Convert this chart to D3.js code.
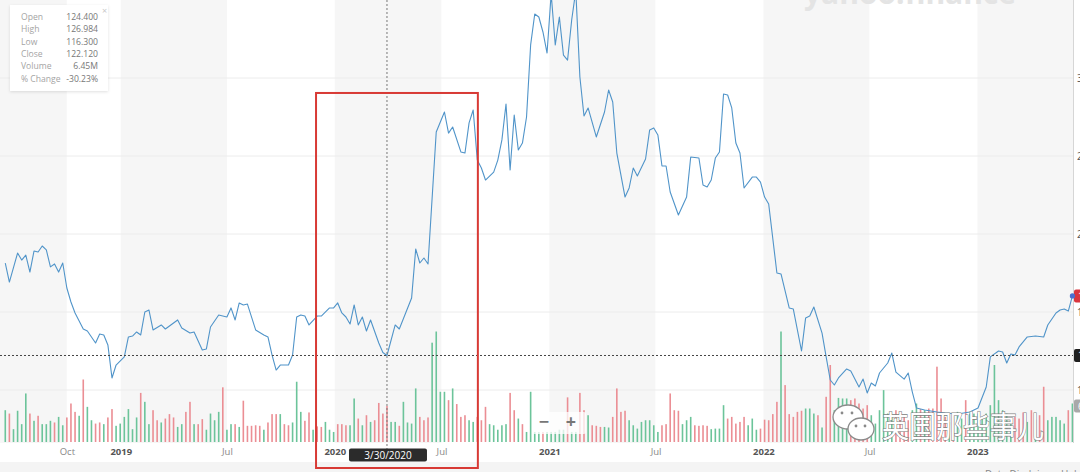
<!DOCTYPE html>
<html><head><meta charset="utf-8">
<script src="https://cdn.jsdelivr.net/npm/d3@7"></script>
<style>
html,body{margin:0;padding:0;background:#fff;overflow:hidden}
svg{display:block;font-family:"Open Sans",Roboto,sans-serif}
</style></head><body>
<svg id="c" width="1080" height="472"></svg>
<script>
// ---------- data (weekly, week index counted from baseDate) ----------
const baseDate = "2018-06-11";
const domainStart = "2018-06-09";
const domainEnd = "2023-06-13";

const priceWeeks = [1,2,4,5,6,7,8,9,10,11,12,13,14,15,16,17,18,20,21,23,24,25,26,27,28,30,31,32,33,34,35,36,37,39,40,43,44,46,47,49,50,51,53,55,56,57,58,59,60,62,64,65,66,67,68,70,71,72,73,74,75,77,78,80,81,82,83,84,85,86,87,88,89,90,92,93,94,96,97,100,101,102,103,104,106,108,109,110,112,113,114,115,116,117,118,120,121,122,123,124,125,126,127,128,129,130,131,132,133,134,135,136,137,138,139,140,141,142,143,145,147,148,149,150,152,153,154,155,157,158,159,160,161,162,163,165,167,168,170,171,172,173,174,175,176,177,178,179,180,181,183,184,185,186,187,189,190,192,193,195,196,197,198,200,201,202,203,204,206,207,209,210,211,212,213,214,216,217,218,220,221,222,223,225,228,230,233,236,238,240,241,243,244,245,246,247,248,250,252,254,255,257,258,259,260,261];
const priceClose = [181.4,169.2,187.8,183.3,186.5,175.6,189.1,188.5,192.3,189.8,178.9,180.8,175.6,181.4,165.4,156.4,149.4,139.1,137.8,130.1,135.9,135.3,128.9,107.7,116.0,121.2,134.0,134.6,137.2,135.3,150.0,151.3,138.5,141.7,139.1,144.9,139.8,136.5,137.2,125.6,126.3,140.4,148.1,146.8,152.6,144.9,155.8,154.5,155.1,138.5,135.3,134.0,122.4,112.8,116.0,116.0,122.4,146.8,148.1,147.4,141.7,147.4,147.4,152.6,152.6,155.8,149.4,146.8,142.3,154.5,141.7,146.8,137.8,144.9,130.1,124.0,122.12,141.7,139.1,159.0,190.4,181.4,184.6,180.8,265.4,278.2,264.7,268.6,252.6,251.9,271.2,279.5,247.4,242.3,234.6,239.7,247.4,260.3,283.3,241.0,276.3,253.8,258.3,275.0,321.2,341.0,339.1,329.5,316.0,354.0,321.2,339.1,314.7,311.5,337.2,356.0,300.6,275.6,280.8,262.2,278.2,292.3,284.6,251.9,223.7,229.5,242.3,237.2,248.1,266.7,268.0,263.5,243.6,243.6,226.9,212.2,223.7,249.4,248.7,231.4,230.1,234.6,248.7,252.6,289.7,289.1,280.8,258.3,251.9,229.5,236.5,236.5,233.3,223.7,219.2,175.0,174.4,152.6,151.9,125.0,146.2,147.4,153.2,136.5,121.2,106.4,103.2,107.7,113.5,112.2,101.9,107.0,98.1,104.5,102.6,110.9,117.3,123.7,111.5,107.0,110.9,98.7,88.5,87.2,85.9,85.3,84.6,85.9,88.5,101.9,121.2,125.0,124.4,117.3,123.1,122.4,127.6,134.0,134.6,134.0,141.7,149.4,151.3,151.9,150.6,160.3];

// weekly volume in millions, weeks 1..261
const volumeM = [5.7,5.1,2.3,5.6,3.2,8.7,5.1,3.8,4.7,3.2,3.2,3.8,3.5,4.5,3.0,4.4,6.9,5.4,4.7,11.2,6.3,3.9,3.3,3.5,3.2,4.4,5.9,2.9,3.3,4.5,5.9,2.3,4.4,8.8,7.2,3.2,5.7,3.9,3.5,4.2,5.0,4.4,2.7,3.2,5.4,7.2,3.2,3.2,4.1,2.2,5.1,3.9,5.4,9.8,2.2,3.2,3.2,2.7,7.4,2.9,2.9,3.0,2.9,2.2,3.5,5.0,5.0,5.0,3.2,3.0,3.5,10.8,5.4,3.8,5.3,2.2,2.8,
2.7,3.6,2.2,1.8,3.2,3.2,3.0,3.0,7.8,4.2,3.0,4.8,3.6,3.9,7.0,5.1,6.45,3.6,3.6,2.9,7.2,3.5,3.3,9.6,4.5,3.9,4.4,17.8,19.8,9.0,9.0,7.5,9.6,6.8,4.5,4.8,3.9,3.6,4.5,3.9,6.3,3.2,3.0,2.2,3.0,3.2,8.8,5.7,4.2,3.2,1.8,9.0,1.8,1.8,1.8,1.8,1.8,1.8,2.2,2.2,8.0,1.8,1.8,8.8,5.7,4.8,3.0,2.9,2.7,2.7,2.6,4.5,9.6,5.4,5.6,3.9,3.0,2.4,3.6,3.9,3.9,3.0,1.8,3.0,3.2,8.7,5.7,5.6,3.2,3.9,4.5,3.0,2.9,3.0,2.9,2.3,2.4,2.4,6.6,4.2,4.5,3.3,3.6,4.5,3.0,4.2,2.2,2.4,4.0,3.9,5.0,7.2,19.8,10.2,5.0,4.5,5.4,5.6,6.0,6.0,5.1,
4.8,2.6,8.1,13.8,5.7,7.9,7.8,7.8,7.5,7.8,6.9,6.0,6.6,4.8,3.3,5.7,9.3,5.1,4.5,5.7,4.8,4.8,3.9,5.7,6.9,5.9,5.7,6.0,6.0,13.5,7.8,4.5,3.6,5.1,5.4,4.2,7.5,5.1,5.1,5.1,4.5,5.1,6.6,13.8,7.5,5.7,5.1,3.9,4.5,4.2,5.3,3.6,5.7,4.0,4.8,9.9,3.9,4.5,4.5,3.9,3.3,5.7,6.9];
// 1 = up week (green), 0 = down week (red), weeks 1..261
const volumeUp = [1,0,1,1,1,1,0,1,0,1,1,1,0,1,1,0,0,0,1,0,1,1,0,0,1,0,0,1,1,1,1,1,1,0,1,1,0,0,1,0,0,0,1,1,0,0,1,0,0,1,1,1,1,0,1,1,0,1,0,0,0,0,0,1,0,0,0,1,0,0,1,1,1,0,0,1,0,
0,1,1,1,0,0,0,1,1,0,1,0,1,0,0,0,0,1,1,0,1,1,1,1,0,0,0,1,1,1,1,0,1,0,0,0,1,1,0,0,0,1,1,1,1,1,0,0,1,0,1,1,1,1,0,1,1,1,1,1,0,1,1,0,0,1,0,0,0,1,1,0,0,0,0,1,1,1,1,1,1,1,1,0,0,0,0,0,1,1,1,0,0,0,0,1,1,1,1,0,0,0,0,0,1,1,1,0,0,0,0,0,1,0,0,0,0,0,1,1,1,
0,1,0,0,1,1,1,1,0,0,0,0,0,1,1,1,1,1,1,0,0,0,0,1,1,0,1,0,0,0,0,0,1,0,1,1,0,1,1,1,1,1,1,1,1,1,1,1,0,0,0,1,0,1,0,0,1,1,1,1,1,0,1];

const xTickDates = ["2018-10-01","2019-01-01","2019-07-01","2020-01-01","2020-07-01","2021-01-01","2021-07-01","2022-01-01","2022-07-01","2023-01-01"];
const xTickLabels = ["Oct","2019","Jul","2020","Jul","2021","Jul","2022","Jul","2023"];
const yTicks = [100,150,200,250,300];
const yTickLabels = ["100.00","150.00","200.00","250.00","300.00"];

const infoLabels = ["Open","High","Low","Close","Volume","% Change"];
const infoValues = ["124.400","126.984","116.300","122.120","6.45M","-30.23%"];
const hoverDate = "2020-03-30";
const hoverLabel = "3/30/2020";
const hoverClose = 122.12;
const hoverVolume = 6.45;
const lastLabel = "160.30";
const highlightRange = ["2019-11-30","2020-09-01"];
const highlightTop = 290.4;

// ---------- scales ----------
const W = 1080, H = 472, plotR = 1073, plotB = 443;
const parse = d3.utcParse("%Y-%m-%d");
const base = parse(baseDate);
const weekDate = w => d3.utcDay.offset(base, 7*w);
const x = d3.scaleUtc().domain([parse(domainStart), parse(domainEnd)]).range([0, plotR]);
const y = d3.scaleLinear().domain([100, 300]).range([390, 78]);
const yV = d3.scaleLinear().domain([0, 20]).range([442, 330.4]);

const svg = d3.select("#c");
svg.append("defs").append("filter").attr("id","sh").attr("x","-20%").attr("y","-20%").attr("width","140%").attr("height","140%")
  .append("feDropShadow").attr("dx",0).attr("dy",1).attr("stdDeviation",1.5).attr("flood-color","#000").attr("flood-opacity",0.12);

// background bands
const bounds = [parse(domainStart), ...xTickDates.map(parse), parse(domainEnd)];
svg.append("g").selectAll("rect").data(d3.pairs(bounds)).join("rect")
  .attr("x", d => x(d[0])).attr("width", d => x(d[1]) - x(d[0]))
  .attr("y", 0).attr("height", plotB)
  .attr("fill", (d,i) => i % 2 === 0 ? "#f6f6f6" : "#fff");

// grid lines
svg.append("g").selectAll("line").data(yTicks).join("line")
  .attr("x1", 0).attr("x2", plotR).attr("y1", d => y(d)).attr("y2", d => y(d))
  .attr("stroke", "#ececec").attr("stroke-width", 1);

// footer
svg.append("rect").attr("x",0).attr("y",462).attr("width",W).attr("height",10).attr("fill","#f4f4f4");
svg.append("text").attr("x",985).attr("y",478).attr("font-size",10).attr("fill","#888").text("Data Disclaimer  Help");

// watermark yahoo
svg.append("text").attr("x",804).attr("y",4).attr("font-size",30).attr("font-weight",700)
  .attr("fill","#e4e4e4").attr("font-family","Open Sans, sans-serif").text("yahoo!finance");

// volume bars
const vol = volumeM.map((v,i) => ({date: weekDate(i+1), v, up: volumeUp[i]}));
svg.append("g").selectAll("rect").data(vol).join("rect")
  .attr("x", d => x(d.date) - 0.8).attr("width", 1.6)
  .attr("y", d => yV(d.v)).attr("height", d => yV(0) - yV(d.v))
  .attr("fill", d => d.up ? "#6cc49a" : "#eb8e94");

// price line
const price = priceWeeks.map((w,i) => ({date: weekDate(w), c: priceClose[i]}));
svg.append("path").datum(price)
  .attr("d", d3.line().x(d => x(d.date)).y(d => y(d.c)))
  .attr("fill","none").attr("stroke","#5094c9").attr("stroke-width",1.1).attr("stroke-linejoin","round");

// right axis line and labels
svg.append("line").attr("x1",plotR+0.5).attr("x2",plotR+0.5).attr("y1",0).attr("y2",plotB).attr("stroke","#d6d6d6");
const yAxis = svg.append("g").attr("transform",`translate(${plotR},0)`)
  .call(d3.axisRight(y).tickValues(yTicks).tickSize(0).tickPadding(4).tickFormat((d,i)=>yTickLabels[i]));
yAxis.select(".domain").remove();
yAxis.selectAll("text").attr("font-size",10).attr("fill","#555").attr("font-family","Open Sans, sans-serif");

// x axis
const xAxis = svg.append("g").attr("transform",`translate(0,${plotB})`)
  .call(d3.axisBottom(x).tickValues(xTickDates.map(parse)).tickSize(0).tickPadding(5).tickFormat((d,i)=>xTickLabels[i]));
xAxis.select(".domain").remove();
xAxis.selectAll("text").attr("font-size",9.5).attr("font-family","Open Sans, sans-serif")
  .attr("fill",(d,i)=> /^\d{4}$/.test(xTickLabels[i]) ? "#555" : "#888")
  .attr("font-weight",(d,i)=> /^\d{4}$/.test(xTickLabels[i]) ? 700 : 400);

// crosshair
const hx = x(parse(hoverDate)), hy = y(hoverClose);
svg.append("line").attr("x1",hx).attr("x2",hx).attr("y1",0).attr("y2",449)
  .attr("stroke","#777").attr("stroke-dasharray","2,2");
svg.append("line").attr("x1",0).attr("x2",plotR).attr("y1",hy).attr("y2",hy)
  .attr("stroke","#444").attr("stroke-dasharray","2,2");

// highlight rectangle annotation
const hx0 = x(parse(highlightRange[0])), hx1 = x(parse(highlightRange[1]));
svg.append("rect").attr("x", hx0).attr("y", y(highlightTop))
  .attr("width", hx1 - hx0).attr("height", 468 - y(highlightTop))
  .attr("fill","none").attr("stroke","#d83a35").attr("stroke-width",2);

// hover date label
const dl = svg.append("g").attr("transform",`translate(${hx},455)`);
dl.append("rect").attr("x",-38).attr("y",-6.5).attr("width",78).attr("height",13).attr("rx",2).attr("fill","#2b2b2b");
dl.append("text").attr("x",1).attr("y",4).attr("text-anchor","middle").attr("font-size",10).attr("fill","#fff").text(hoverLabel);

// right-edge value labels
function edgeLabel(yy, fill, txt){
  const g = svg.append("g").attr("transform",`translate(${plotR+1},${yy})`);
  g.append("rect").attr("x",0).attr("y",-6.5).attr("width",44).attr("height",13).attr("rx",2).attr("fill",fill);
  g.append("text").attr("x",4).attr("y",4).attr("font-size",10).attr("fill","#fff").text(txt);
}
const last = price[price.length-1];
edgeLabel(y(last.c), "#d9363e", lastLabel);
edgeLabel(hy, "#1f1f1f", hoverClose.toFixed(2));
edgeLabel(yV(hoverVolume), "#a9a9a9", hoverVolume.toFixed(2)+"M");
svg.append("circle").attr("cx",x(last.date)).attr("cy",y(last.c)).attr("r",2.6).attr("fill","#4a6fd0");

// zoom buttons
svg.append("rect").attr("x",532).attr("y",412).attr("width",54).attr("height",22).attr("rx",2).attr("fill","#fff").attr("opacity",0.75);
svg.append("text").attr("x",544).attr("y",428).attr("text-anchor","middle").attr("font-size",18).attr("font-weight",700).attr("fill","#777").text("−");
svg.append("text").attr("x",571).attr("y",428).attr("text-anchor","middle").attr("font-size",18).attr("font-weight",700).attr("fill","#777").text("+");

// info box
const ib = svg.append("g").attr("transform","translate(10,5)");
ib.append("rect").attr("width",98).attr("height",86).attr("fill","#fff").attr("filter","url(#sh)");
ib.append("text").attr("x",92).attr("y",9).attr("font-size",9).attr("fill","#c8c8c8").text("×");
ib.selectAll("text.l").data(infoLabels).join("text").attr("class","l")
  .attr("x",11).attr("y",(d,i)=>15+i*12.3).attr("font-size",8.6).attr("fill","#a4a4a4").text(d=>d);
ib.selectAll("text.v").data(infoValues).join("text").attr("class","v")
  .attr("x",88).attr("y",(d,i)=>15+i*12.3).attr("text-anchor","end").attr("font-size",8.6).attr("fill","#777").text(d=>d);

// WeChat watermark
const wm = svg.append("g");
wm.append("ellipse").attr("cx",848).attr("cy",417).attr("rx",15).attr("ry",12).attr("fill","#fff").attr("stroke","#8a8a8a").attr("stroke-width",1.3);
wm.append("ellipse").attr("cx",861).attr("cy",429).attr("rx",13).attr("ry",11).attr("fill","#fff").attr("stroke","#8a8a8a").attr("stroke-width",1.3);
[[842,413],[852,413],[856,426],[865,426]].forEach(p=>wm.append("circle").attr("cx",p[0]).attr("cy",p[1]).attr("r",1.4).attr("fill","#8a8a8a"));
wm.append("text").attr("x",882).attr("y",437).attr("font-size",30).attr("font-family","Noto Sans CJK SC, sans-serif")
  .attr("textLength",162).attr("lengthAdjust","spacingAndGlyphs")
  .attr("fill","#fff").attr("stroke","#808080").attr("stroke-width",1.2).attr("paint-order","stroke").text("英国那些事儿");
</script>
</body></html>
